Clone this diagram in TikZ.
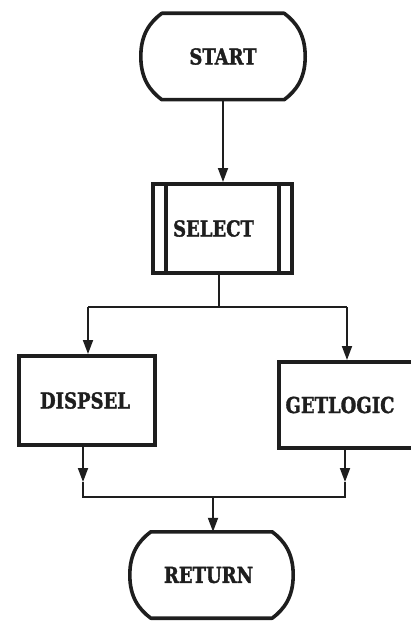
\documentclass[tikz,border=0pt]{standalone}
\usepackage{fontspec}
\newfontfamily\flowfont[BoldFeatures={FakeBold=1.6}]{DejaVu Serif Condensed}
\usetikzlibrary{arrows.meta,calc}

\definecolor{ink}{HTML}{1E1E1E}

% block label: heavy slab letters, slightly stretched upward
\newcommand\flowlabel[1]{\scalebox{1}[1.1]{#1}}

% rounded-ended terminal outline around a named node
\newcommand\terminaloutline[1]{%
  \draw[termline]
    ($(#1.north west)+(21,0)$) -- ($(#1.north east)+(-21,0)$)
    .. controls ($(#1.north east)+(-9,9)$) and ($(#1.east)+(0,-22)$) .. (#1.east)
    .. controls ($(#1.east)+(0,22)$) and ($(#1.south east)+(-9,-9)$) .. ($(#1.south east)+(-21,0)$)
    -- ($(#1.south west)+(21,0)$)
    .. controls ($(#1.south west)+(9,-9)$) and ($(#1.west)+(0,22)$) .. (#1.west)
    .. controls ($(#1.west)+(0,-22)$) and ($(#1.north west)+(9,9)$) .. cycle;}

\begin{document}
\begin{tikzpicture}[
    x=1pt, y=-1pt,
    every node/.style={font=\flowfont\bfseries\fontsize{20}{20}\selectfont, text=ink},
    termbox/.style={rectangle, inner sep=0pt, draw=none},
    termline/.style={draw=ink, line width=3.6pt, line join=round},
    procbox/.style={rectangle, inner sep=0pt, draw=ink, line width=4pt},
    boxline/.style={draw=ink, line width=4pt},
    conn/.style={draw=ink, line width=1.8pt},
    tip/.style={-{Triangle[length=14pt,width=10pt]}}
  ]
  \useasboundingbox (0,0) rectangle (410,623);

  % terminals
  \node[termbox, minimum width=164pt, minimum height=86pt] (start) at (223,56.5) {\flowlabel{START}};
  \terminaloutline{start}

  \node[termbox, minimum width=163pt, minimum height=86pt] (ret) at (211.5,575) {\hspace*{-6pt}\flowlabel{RETURN}};
  \terminaloutline{ret}

  % predefined process
  \node[procbox, minimum width=139pt, minimum height=89pt] (sel) at (222.5,228.5) {\hspace*{-18pt}\flowlabel{SELECT}};
  \draw[boxline] ($(sel.north west)+(15,0)$) -- ($(sel.south west)+(15,0)$);
  \draw[boxline] ($(sel.north east)+(-15,0)$) -- ($(sel.south east)+(-15,0)$);

  % processes
  \node[procbox, minimum width=136pt, minimum height=89pt] (disp) at (87,400.5) {\hspace*{-4pt}\flowlabel{DISPSEL}};
  \node[procbox, minimum width=134pt, minimum height=86pt] (get) at (346,405) {\hspace*{-12pt}\flowlabel{GETLOGIC}};

  % branch points
  \coordinate (split) at (219,307);
  \coordinate (dl) at (88,307);
  \coordinate (dr) at (347,307);
  \coordinate (ml) at (83,497);
  \coordinate (mr) at (345,497);
  \coordinate (mc) at (213,497);
  \coordinate (al) at (83,482);
  \coordinate (ar) at (345,482);

  % connectors
  \draw[conn, tip] (start.south) -- (start.south |- sel.north);
  \draw[conn] (sel.south -| split) -- (split);
  \draw[conn] (dl) -- (dr);
  \draw[conn, tip] (dl) -- (dl |- disp.north);
  \draw[conn, tip] (dr) -- (dr |- get.north);

  \draw[conn, tip] (disp.south -| ml) -- (al);
  \draw[conn, tip] (get.south -| mr) -- (ar);
  \draw[conn] (al) -- (ml) -- (mr) -- (ar);
  \draw[conn, tip] (mc) -- (mc |- ret.north);
\end{tikzpicture}
\end{document}
